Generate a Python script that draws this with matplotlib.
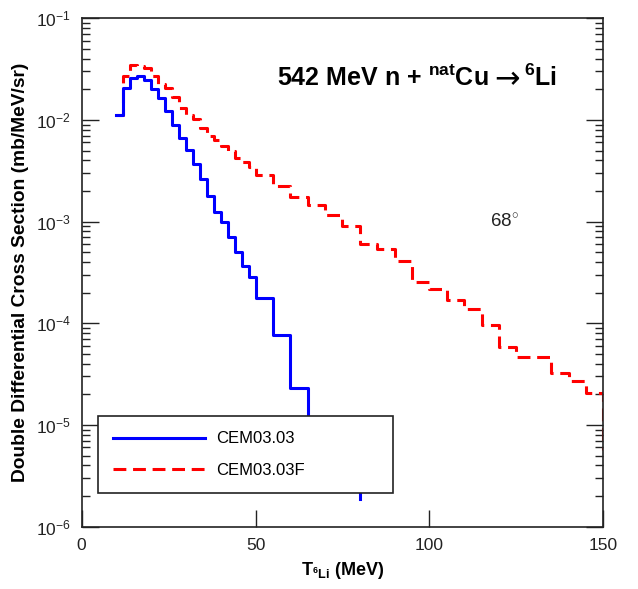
import matplotlib
matplotlib.use("Agg")
import matplotlib.pyplot as plt
from matplotlib.ticker import NullFormatter, LogLocator

plt.rcParams['font.family'] = ['Liberation Sans', 'DejaVu Sans']
plt.rcParams['mathtext.fontset'] = 'custom'
plt.rcParams['mathtext.rm'] = 'Liberation Sans'
plt.rcParams['mathtext.bf'] = 'Liberation Sans:bold'
plt.rcParams['mathtext.it'] = 'Liberation Sans:italic'

# ---- data (bin left edges in MeV, values in mb/MeV/sr) ----
blue_edges = [10, 12, 14, 16, 18, 20, 22, 24, 26, 28, 30, 32, 34, 36, 38, 40, 42, 44, 46, 48,
              50, 55, 60, 65, 70, 75, 80]
blue_vals = [1.11e-2, 2.05e-2, 2.6e-2, 2.7e-2, 2.47e-2, 2.02e-2, 1.63e-2, 1.22e-2, 8.9e-3, 6.6e-3,
             5.07e-3, 3.67e-3, 2.63e-3, 1.80e-3, 1.24e-3, 9.86e-4, 7.03e-4, 5.0e-4, 3.69e-4, 2.88e-4,
             1.77e-4, 7.7e-5, 2.3e-5, 9e-6, 5e-6, 3e-6, 1.87e-6]

red_edges = [10, 12, 14, 16, 18, 20, 22, 24, 26, 28, 30, 32, 34, 36, 38, 40, 42, 44, 46, 48,
             50, 55, 60, 65, 70, 75, 80, 85, 90, 95, 100, 105, 110, 115, 120, 125, 130, 135, 140, 145,
             150]
red_vals = [1.12e-2, 2.71e-2, 3.44e-2, 3.42e-2, 3.22e-2, 2.73e-2, 2.25e-2, 2.05e-2, 1.68e-2, 1.30e-2,
            1.12e-2, 1.02e-2, 8.34e-3, 7.01e-3, 6.36e-3, 5.55e-3, 4.95e-3, 4.23e-3, 3.86e-3, 3.45e-3,
            2.86e-3, 2.24e-3, 1.75e-3, 1.46e-3, 1.16e-3, 9.08e-4, 6.04e-4, 5.39e-4, 4.14e-4, 2.57e-4,
            2.18e-4, 1.70e-4, 1.38e-4, 9.63e-5, 5.90e-5, 4.64e-5, 4.64e-5, 3.21e-5, 2.68e-5, 2.07e-5,
            5.7e-6]

x_ticks = [0, 50, 100, 150]
y_ticks = [1e-6, 1e-5, 1e-4, 1e-3, 1e-2, 1e-1]
y_ticklabels = ['$10^{-6}$', '$10^{-5}$', '$10^{-4}$', '$10^{-3}$', '$10^{-2}$', '$10^{-1}$']
labels = ['CEM03.03', 'CEM03.03F']

fig = plt.figure(figsize=(6.38, 5.89), dpi=100)
ax = fig.add_axes([0.128, 0.106, 0.8176, 0.863])

lr, = ax.plot(red_edges, red_vals, drawstyle='steps-post', color='#ff0000', lw=2.2,
              label=labels[1], zorder=2)
lr.set_dashes([4.2, 2.2])
lb, = ax.plot(blue_edges, blue_vals, drawstyle='steps-post', color='#0000ff', lw=2.2,
              label=labels[0], zorder=3)

ax.set_yscale('log')
ax.set_xlim(0, 150)
ax.set_ylim(1e-6, 1e-1)
ax.set_xticks(x_ticks)
ax.set_xticklabels([str(t) for t in x_ticks])
ax.set_yticks(y_ticks)
ax.set_yticklabels(y_ticklabels)
ax.yaxis.set_minor_locator(LogLocator(base=10, subs=range(2, 10)))
ax.yaxis.set_minor_formatter(NullFormatter())

ax.tick_params(axis='both', which='major', direction='in', length=12, width=1.0,
               labelsize=12.5, top=False, right=True, colors='#222222', labelcolor='#222222', pad=8)
ax.tick_params(axis='y', which='minor', direction='in', length=6, width=1.0, right=True,
               colors='#222222')
for s in ax.spines.values():
    s.set_linewidth(1.2)
    s.set_color('#222222')

ax.set_xlabel(r'$\mathbf{T_{^6Li}}$ (MeV)', fontsize=13, fontweight='bold', labelpad=5)
ax.set_ylabel('Double Differential Cross Section (mb/MeV/sr)', fontsize=13.8, fontweight='bold',
              labelpad=5)

# title built from three chained pieces so the arrow can be larger
t1 = ax.text(0.3744, 0.8668, r'542 MeV n + $^{\mathbf{nat}}$Cu', transform=ax.transAxes,
             ha='left', va='baseline', fontsize=18, fontweight='bold')
t2 = ax.annotate('\u2192', xy=(1, 0), xycoords=t1, xytext=(4, 2), textcoords='offset points',
                 ha='left', va='baseline', fontsize=22, family='DejaVu Sans')
t3 = ax.annotate(r'$^{\mathbf{6}}$Li', xy=(1, 0), xycoords=(t2, t1), xytext=(3, 0),
                 textcoords='offset points', ha='left', va='bottom', fontsize=18,
                 fontweight='bold')

ax.text(0.783, 0.599, r'68$^{\circ}$', transform=ax.transAxes, ha='left', va='center',
        fontsize=13.5, color='#222222')

leg = ax.legend(handles=[lb, lr], loc='lower left', bbox_to_anchor=(0.031, 0.066, 0.566, 0.167),
                mode='expand', frameon=True, fancybox=False, fontsize=12, handlelength=5.5,
                handletextpad=0.7, labelspacing=1.0, borderpad=0.9, borderaxespad=0)
leg.get_frame().set_edgecolor('#222222')
leg.get_frame().set_linewidth(1.2)
leg.get_frame().set_alpha(1)

fig.savefig('out.png', dpi=100)
